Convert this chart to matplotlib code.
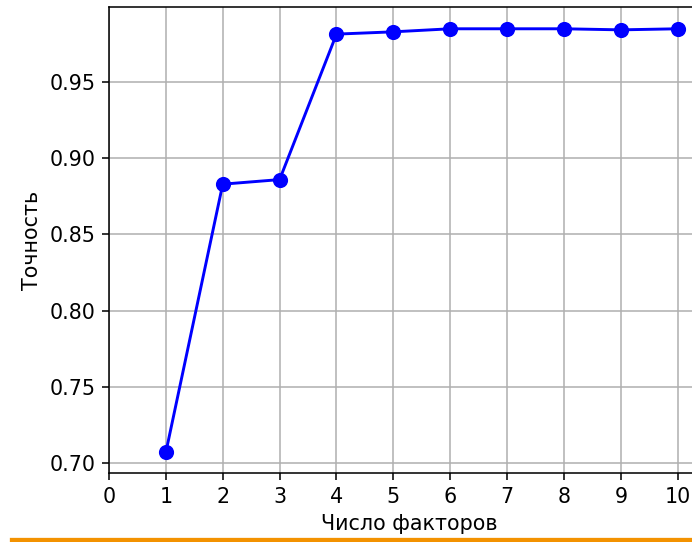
import matplotlib.pyplot as plt
from matplotlib.lines import Line2D

# число факторов и точность модели
n_factors = [1, 2, 3, 4, 5, 6, 7, 8, 9, 10]
accuracy = [0.707, 0.883, 0.886, 0.9815, 0.983, 0.985, 0.985, 0.985, 0.9843, 0.985]
x_ticks = list(range(0, 11))

# исходный рисунок увеличен примерно в 1.4 раза, поэтому dpi=140
DPI = 140
plt.rcParams["font.size"] = 10.6
fig = plt.figure(figsize=(692 / DPI, 542 / DPI), dpi=DPI)
ax = fig.add_axes([109 / 692, 69 / 542, 600 / 692, 466 / 542])

ax.plot(n_factors, accuracy, color="blue", marker="o", markersize=6.8, linewidth=1.5)
ax.set_xticks(x_ticks)
ax.set_xlim(0, 10.55)
ax.set_ylim(0.6934, 0.9993)
ax.set_yticks([0.70, 0.75, 0.80, 0.85, 0.90, 0.95])
ax.grid(True, color="#b0b0b0", linewidth=0.8)
ax.set_xlabel("Число факторов")
ax.set_ylabel("Точность")

# оранжевая полоса внизу страницы
fig.add_artist(Line2D([12 / 692, 1.0], [2 / 542, 2 / 542], color="#f39200", linewidth=2.2))

fig.savefig("out.png", dpi=DPI)
